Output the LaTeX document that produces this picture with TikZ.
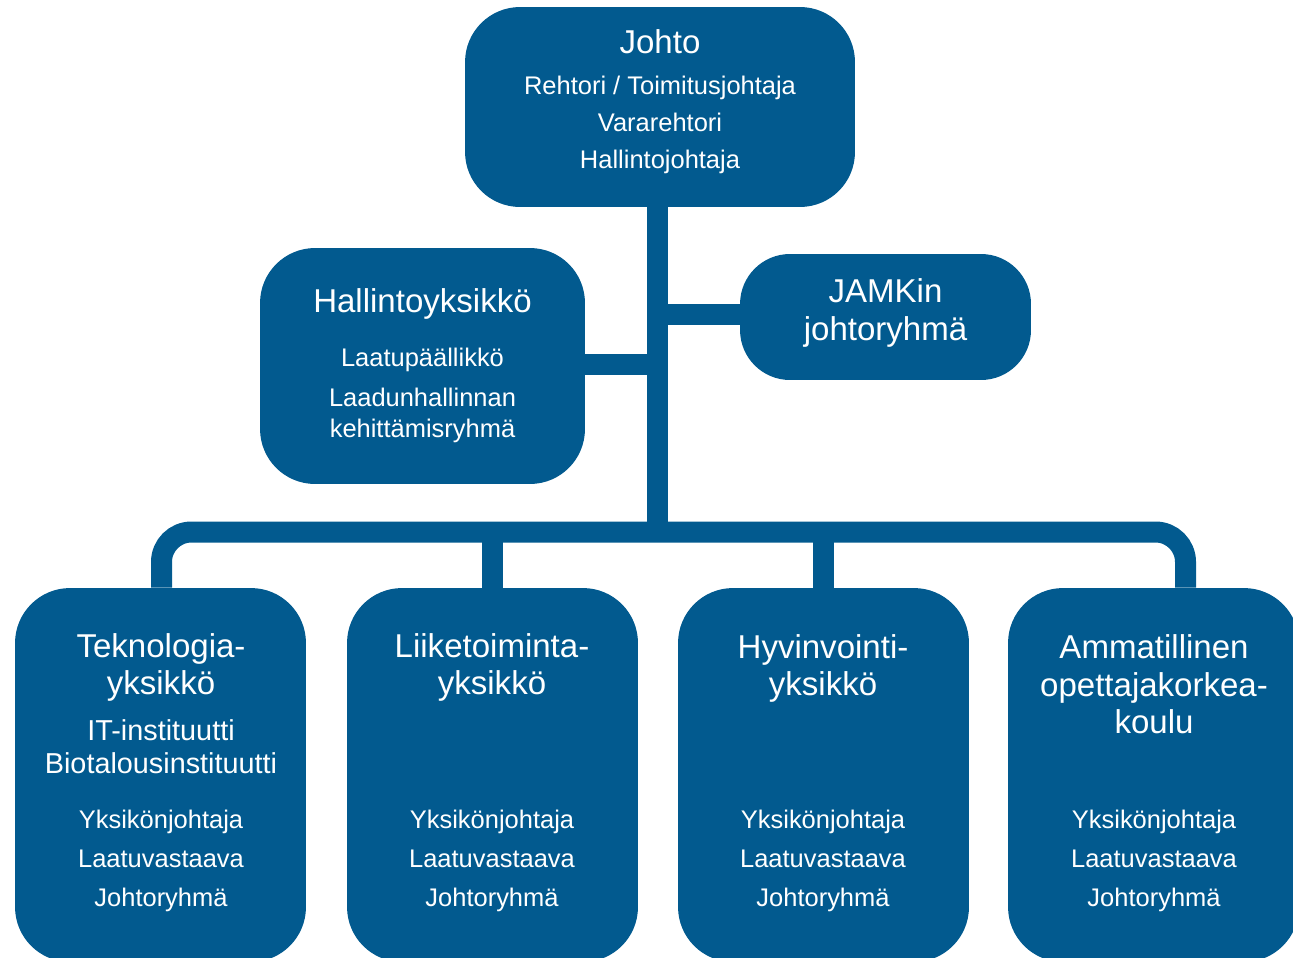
\documentclass[tikz,border=0pt]{standalone}
\usepackage{fontspec}
\setmainfont{Liberation Sans}
\definecolor{jamkblue}{RGB}{2,90,143}
\tikzset{
  unitbox/.style={fill=jamkblue, draw=none, rounded corners=1.1cm, inner sep=0pt},
  conn/.style={draw=jamkblue, line width=0.42cm, line cap=butt},
  ttl/.style={text=white, anchor=base, inner sep=0pt, font=\fontsize{18.8}{21}\selectfont},
  sub/.style={text=white, anchor=base, inner sep=0pt, font=\fontsize{14.5}{17}\selectfont},
  inst/.style={text=white, anchor=base, inner sep=0pt, font=\fontsize{16.4}{19}\selectfont},
}
\begin{document}
\begin{tikzpicture}[x=0.02cm, y=-0.02cm]
\useasboundingbox (0,0) rectangle (1293,957);
\clip (0,0) rectangle (1293,957);

% boxes
\node[unitbox, minimum width=7.8cm, minimum height=4cm] (johto) at (660,107) {};
\node[unitbox, minimum width=6.5cm, minimum height=4.72cm] (hallinto) at (422.5,366) {};
\node[unitbox, minimum width=5.82cm, minimum height=2.52cm, rounded corners=1cm] (jamk) at (885.5,317) {};
\node[unitbox, minimum width=5.82cm, minimum height=7.48cm] (tek) at (160.5,775) {};
\node[unitbox, minimum width=5.82cm, minimum height=7.48cm] (lii) at (492.5,775) {};
\node[unitbox, minimum width=5.82cm, minimum height=7.48cm] (hyv) at (823.5,775) {};
\node[unitbox, minimum width=5.82cm, minimum height=7.48cm] (amm) at (1153.5,775) {};

% junction points of the connector tree
\coordinate (hub) at (657.5,532);
\coordinate (hlink) at (657.5,364);
\coordinate (jlink) at (657.5,314);
\coordinate (busL) at (161.5,532);
\coordinate (busR) at (1185.5,532);

% connectors
\draw[conn] (hub |- johto.south) -- (hub);
\draw[conn] (hlink -| hallinto.east) -- (hlink);
\draw[conn] (jlink) -- (jlink -| jamk.west);
\draw[conn, rounded corners=0.6cm] (busL |- tek.north) -- (busL) -- (busR) -- (busR |- amm.north);
\draw[conn] (lii.north |- hub) -- (lii.north);
\draw[conn] (hyv.north |- hub) -- (hyv.north);

% Johto
\node[ttl] (johto-t) at (660,53) {Johto};
\node[sub] (johto-1) at (660,94) {Rehtori / Toimitusjohtaja};
\node[sub] (johto-2) at (660,131) {Vararehtori};
\node[sub] (johto-3) at (660,168) {Hallintojohtaja};

% Hallintoyksikkö
\node[ttl] (hal-t) at (422.5,312) {Hallintoyksikkö};
\node[sub] (hal-1) at (422.5,366) {Laatupäällikkö};
\node[sub] (hal-2) at (422.5,406) {Laadunhallinnan};
\node[sub] (hal-3) at (422.5,437) {kehittämisryhmä};

% JAMKin johtoryhmä
\node[ttl] (jamk-t1) at (885.5,302) {JAMKin};
\node[ttl] (jamk-t2) at (885.5,340) {johtoryhmä};

% Teknologiayksikkö
\node[ttl] (tek-t1) at (161,657) {Teknologia-};
\node[ttl] (tek-t2) at (161,694) {yksikkö};
\node[inst] (tek-i1) at (161,740) {IT-instituutti};
\node[inst] (tek-i2) at (161,773) {Biotalousinstituutti};
\node[sub] (tek-1) at (161,828) {Yksikönjohtaja};
\node[sub] (tek-2) at (161,867) {Laatuvastaava};
\node[sub] (tek-3) at (161,906) {Johtoryhmä};

% Liiketoimintayksikkö
\node[ttl] (lii-t1) at (492,657) {Liiketoiminta-};
\node[ttl] (lii-t2) at (492,694) {yksikkö};
\node[sub] (lii-1) at (492,828) {Yksikönjohtaja};
\node[sub] (lii-2) at (492,867) {Laatuvastaava};
\node[sub] (lii-3) at (492,906) {Johtoryhmä};

% Hyvinvointiyksikkö
\node[ttl] (hyv-t1) at (823,658) {Hyvinvointi-};
\node[ttl] (hyv-t2) at (823,695) {yksikkö};
\node[sub] (hyv-1) at (823,828) {Yksikönjohtaja};
\node[sub] (hyv-2) at (823,867) {Laatuvastaava};
\node[sub] (hyv-3) at (823,906) {Johtoryhmä};

% Ammatillinen opettajakorkeakoulu
\node[ttl] (amm-t1) at (1154,658) {Ammatillinen};
\node[ttl] (amm-t2) at (1154,696) {opettajakorkea-};
\node[ttl] (amm-t3) at (1154,733) {koulu};
\node[sub] (amm-1) at (1154,828) {Yksikönjohtaja};
\node[sub] (amm-2) at (1154,867) {Laatuvastaava};
\node[sub] (amm-3) at (1154,906) {Johtoryhmä};
\end{tikzpicture}
\end{document}
